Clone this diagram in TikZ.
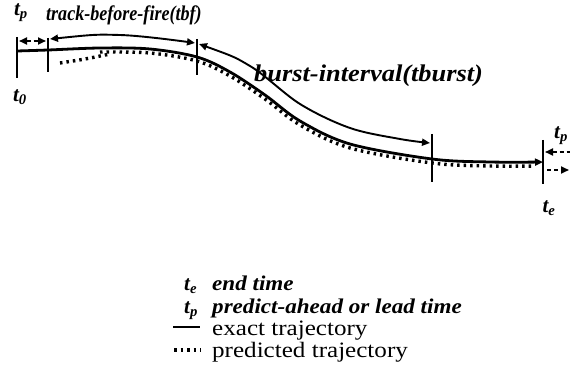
\documentclass[tikz,border=0pt]{standalone}
\usepackage{fontspec}
\setmainfont{Liberation Serif}
\usetikzlibrary{arrows.meta}
\begin{document}
\begin{tikzpicture}[x=1pt,y=-1pt,
  exact/.style={line width=2.8pt},
  pred/.style={line width=3.4pt, dash pattern=on 2.5pt off 4pt},
  tickline/.style={line width=1.8pt},
  spanline/.style={line width=1.9pt},
  tipR/.style={-{Triangle[length=8pt,width=7pt]}},
  tipL/.style={{Triangle[length=8pt,width=7pt]}-},
  tipLR/.style={{Triangle[length=8pt,width=7pt]}-{Triangle[length=8pt,width=7pt]}},
  lbl/.style={font=\fontsize{21}{23}\selectfont\bfseries\itshape, inner sep=0pt},
  leg/.style={font=\fontsize{22}{24}\selectfont, inner sep=0pt, anchor=base west},
  legi/.style={font=\fontsize{21}{23}\selectfont\bfseries\itshape, inner sep=0pt, anchor=base west},
]
\useasboundingbox (0,0) rectangle (570,377);

% key time points
\coordinate (t0) at (17,51);
\coordinate (ts) at (48,50);
\coordinate (tf) at (197,57);
\coordinate (tb) at (432,159);
\coordinate (te) at (543,162);

% ticks
\draw[tickline] (17,37) -- (17,78);
\draw[tickline] (48,38) -- (48,72);
\draw[tickline] (197,39) -- (197,75);
\draw[tickline] (432,134) -- (432,182);
\draw[tickline] (543,140) -- (543,184);

% exact trajectory
\draw[exact, tipR] plot[smooth, tension=0.55] coordinates {(t0) (ts) (100,48) (150,49) (tf) (230,72) (265,95) (300,121) (350,144) (tb) (490,162) (te)};

% predicted trajectory (dotted, hugging the exact one)
\draw[pred] plot[smooth, tension=0.55] coordinates {(100,52) (150,53) (197,61) (230,76) (265,99) (300,125) (350,148) (432,163) (490,166) (535,166)};
\draw[pred] plot[smooth, tension=0.6] coordinates {(60,63) (85,59) (110,54)};

% t_p interval at start
\draw[spanline, dash pattern=on 4pt off 3pt, tipLR] (19,41) -- (46,41);
% track-before-fire
\draw[spanline, tipLR] plot[smooth, tension=0.6] coordinates {(50,39) (120,35) (195,43)};
% burst interval
\draw[spanline, tipLR] plot[smooth, tension=0.55] coordinates {(199,44) (250,66) (300,104) (350,128) (400,139) (430,143)};
% t_p interval after end
\draw[spanline, dash pattern=on 4pt off 3pt, tipL] (545,152) -- (570,152);
\draw[spanline, dash pattern=on 4pt off 3pt, tipR] (547,170) -- (569,170);

% labels
\node[lbl] (lTpA) at (21,13) {t\textsubscript{p}};
\node[lbl, anchor=west] (lTbf) at (46,15) {\scalebox{0.86}[1]{track-before-fire(tbf)}};
\node[lbl] (lT0) at (20,97) {t\textsubscript{0}};
\node[lbl, anchor=west, font=\fontsize{24}{26}\selectfont\bfseries\itshape] (lBurst) at (254,76) {\scalebox{1.1}[1]{burst-interval(tburst)}};
\node[lbl] (lTpB) at (561,136) {t\textsubscript{p}};
\node[lbl] (lTe) at (549,208) {t\textsubscript{e}};

% legend
\node[legi] (k1s) at (184,290) {t\textsubscript{e}};
\node[legi] (k1) at (212,290) {\scalebox{1.1}[1]{end time}};
\node[legi] (k2s) at (184,313) {t\textsubscript{p}};
\node[legi] (k2) at (212,313) {\scalebox{1.1}[1]{predict-ahead or lead time}};
\coordinate (k3a) at (173,327);
\coordinate (k3b) at (200,327);
\draw[exact] (k3a) -- (k3b);
\node[leg] (k3) at (212,335) {\scalebox{1.14}[1]{exact trajectory}};
\coordinate (k4a) at (174,350);
\coordinate (k4b) at (201,350);
\draw[pred] (k4a) -- (k4b);
\node[leg] (k4) at (212,357) {\scalebox{1.14}[1]{predicted trajectory}};
\end{tikzpicture}
\end{document}
